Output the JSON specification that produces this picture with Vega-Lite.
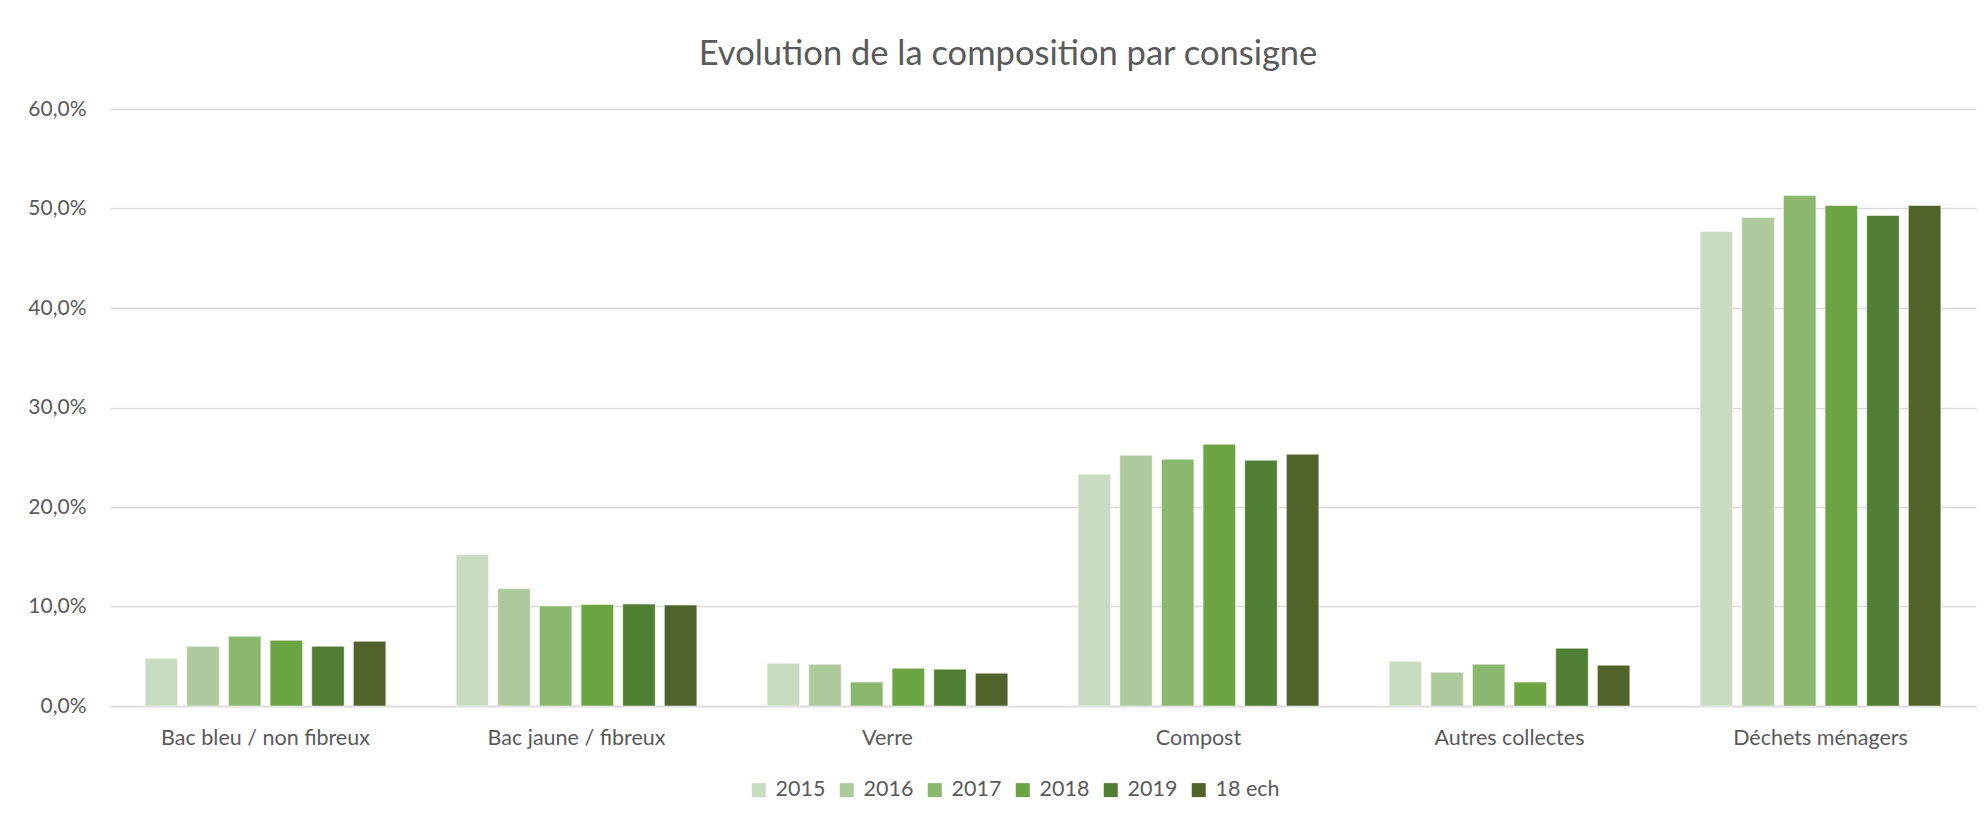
{
  "$schema": "https://vega.github.io/schema/vega-lite/v6.json",
  "autosize": "none",
  "width": 1866,
  "height": 597,
  "padding": {"left": 110, "top": 109, "right": 12, "bottom": 116},
  "background": "white",
  "config": {
    "locale": {"number": {"decimal": ",", "thousands": " ", "grouping": [3], "currency": ["", " €"]}},
    "font": "Lato",
    "view": {"stroke": null}
  },
  "title": {
    "text": "Evolution de la composition par consigne",
    "font": "Lato",
    "fontSize": 34.5,
    "fontWeight": "normal",
    "color": "#595959",
    "anchor": "middle",
    "offset": 26,
    "dx": -35
  },
  "data": {
    "values": [
      {"cat": "Bac bleu / non fibreux", "year": "2015", "value": 0.048},
      {"cat": "Bac bleu / non fibreux", "year": "2016", "value": 0.060},
      {"cat": "Bac bleu / non fibreux", "year": "2017", "value": 0.070},
      {"cat": "Bac bleu / non fibreux", "year": "2018", "value": 0.066},
      {"cat": "Bac bleu / non fibreux", "year": "2019", "value": 0.060},
      {"cat": "Bac bleu / non fibreux", "year": "18 ech", "value": 0.065},
      {"cat": "Bac jaune / fibreux", "year": "2015", "value": 0.152},
      {"cat": "Bac jaune / fibreux", "year": "2016", "value": 0.118},
      {"cat": "Bac jaune / fibreux", "year": "2017", "value": 0.1005},
      {"cat": "Bac jaune / fibreux", "year": "2018", "value": 0.102},
      {"cat": "Bac jaune / fibreux", "year": "2019", "value": 0.1025},
      {"cat": "Bac jaune / fibreux", "year": "18 ech", "value": 0.1015},
      {"cat": "Verre", "year": "2015", "value": 0.043},
      {"cat": "Verre", "year": "2016", "value": 0.042},
      {"cat": "Verre", "year": "2017", "value": 0.024},
      {"cat": "Verre", "year": "2018", "value": 0.038},
      {"cat": "Verre", "year": "2019", "value": 0.037},
      {"cat": "Verre", "year": "18 ech", "value": 0.033},
      {"cat": "Compost", "year": "2015", "value": 0.233},
      {"cat": "Compost", "year": "2016", "value": 0.252},
      {"cat": "Compost", "year": "2017", "value": 0.248},
      {"cat": "Compost", "year": "2018", "value": 0.263},
      {"cat": "Compost", "year": "2019", "value": 0.247},
      {"cat": "Compost", "year": "18 ech", "value": 0.253},
      {"cat": "Autres collectes", "year": "2015", "value": 0.045},
      {"cat": "Autres collectes", "year": "2016", "value": 0.034},
      {"cat": "Autres collectes", "year": "2017", "value": 0.042},
      {"cat": "Autres collectes", "year": "2018", "value": 0.024},
      {"cat": "Autres collectes", "year": "2019", "value": 0.058},
      {"cat": "Autres collectes", "year": "18 ech", "value": 0.041},
      {"cat": "Déchets ménagers", "year": "2015", "value": 0.477},
      {"cat": "Déchets ménagers", "year": "2016", "value": 0.491},
      {"cat": "Déchets ménagers", "year": "2017", "value": 0.513},
      {"cat": "Déchets ménagers", "year": "2018", "value": 0.503},
      {"cat": "Déchets ménagers", "year": "2019", "value": 0.493},
      {"cat": "Déchets ménagers", "year": "18 ech", "value": 0.503}
    ]
  },
  "mark": {"type": "bar", "stroke": "white", "strokeOpacity": 0.5, "strokeWidth": 1},
  "encoding": {
    "x": {
      "field": "cat",
      "type": "nominal",
      "sort": ["Bac bleu / non fibreux", "Bac jaune / fibreux", "Verre", "Compost", "Autres collectes", "Déchets ménagers"],
      "scale": {"paddingInner": 0.226, "paddingOuter": 0.113},
      "axis": {
        "title": null,
        "labelAngle": 0,
        "labelLimit": 0,
        "ticks": false,
        "domainColor": "#D9D9D9",
        "domainWidth": 1.5,
        "labelFont": "Lato",
        "labelFontSize": 21.5,
        "labelColor": "#595959",
        "labelPadding": 21
      }
    },
    "xOffset": {
      "field": "year",
      "type": "nominal",
      "sort": ["2015", "2016", "2017", "2018", "2019", "18 ech"],
      "scale": {"paddingInner": 0.22}
    },
    "y": {
      "field": "value",
      "type": "quantitative",
      "scale": {"domain": [0, 0.6], "nice": false},
      "axis": {
        "title": null,
        "values": [0, 0.1, 0.2, 0.3, 0.4, 0.5, 0.6],
        "format": ".1%",
        "grid": true,
        "gridColor": "#D9D9D9",
        "gridWidth": 1.5,
        "domain": false,
        "ticks": false,
        "labelFont": "Lato",
        "labelFontSize": 21,
        "labelColor": "#595959",
        "labelPadding": 24
      }
    },
    "color": {
      "field": "year",
      "type": "nominal",
      "sort": ["2015", "2016", "2017", "2018", "2019", "18 ech"],
      "scale": {
        "domain": ["2015", "2016", "2017", "2018", "2019", "18 ech"],
        "range": ["#C9DBC1", "#AECA9C", "#8AB86F", "#6CA443", "#507E33", "#51632A"]
      },
      "legend": {
        "title": null,
        "orient": "none",
        "legendX": 638,
        "legendY": 670,
        "direction": "horizontal",
        "columns": 6,
        "symbolType": "square",
        "symbolSize": 196,
        "symbolStrokeWidth": 0,
        "labelFont": "Lato",
        "labelFontSize": 21.5,
        "labelColor": "#595959",
        "labelOffset": 6,
        "columnPadding": 10
      }
    }
  }
}
